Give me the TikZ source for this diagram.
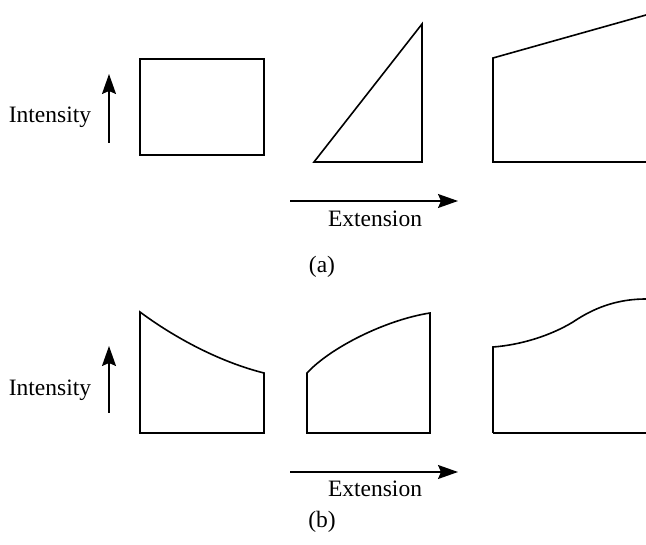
\documentclass[tikz,border=0pt]{standalone}
\usepackage{fontspec}
\setmainfont{Liberation Serif}
\usetikzlibrary{arrows.meta}

\begin{document}
\begin{tikzpicture}[x=1pt,y=-1pt,line width=1.6pt,
    axis/.style={-{Stealth[length=20pt,width=14pt,inset=3pt]},line width=1.5pt},
    lab/.style={font=\fontsize{23.5}{28}\selectfont}]
  \useasboundingbox (0,0) rectangle (646,545);
  % (a) linear profiles
  \draw (140,59) rectangle (264,155);
  \draw (314,162) -- (422,162) -- (422,24) -- cycle;
  \draw (646,15) -- (493,58) -- (493,162) -- (646,162);
  \coordinate (ia0) at (109,143);
  \coordinate (ia1) at (109,74);
  \draw[axis] (ia0) -- (ia1);
  \node[lab] (inta) at (50,117) {Intensity};
  \coordinate (ea0) at (290,201);
  \coordinate (ea1) at (458,201);
  \draw[axis] (ea0) -- (ea1);
  \node[lab] (exta) at (375,219) {Extension};
  \node[lab] (capa) at (322,267) {(a)};
  % (b) curved profiles
  \draw (264,373) .. controls (220,362) and (175,338) .. (140,312)
    -- (140,433) -- (264,433) -- cycle;
  \draw (307,433) -- (307,373) .. controls (330,348) and (385,320) .. (430,313)
    -- (430,433) -- cycle;
  \draw (493,433) -- (493,347) .. controls (520,345) and (550,336) .. (573,322)
    .. controls (598,305) and (622,299) .. (646,299);
  \draw (493,433) -- (646,433);
  \coordinate (ib0) at (109,413);
  \coordinate (ib1) at (109,346);
  \draw[axis] (ib0) -- (ib1);
  \node[lab] (intb) at (50,390) {Intensity};
  \coordinate (eb0) at (290,472);
  \coordinate (eb1) at (458,472);
  \draw[axis] (eb0) -- (eb1);
  \node[lab] (extb) at (375,489) {Extension};
  \node[lab] (capb) at (322,522) {(b)};
\end{tikzpicture}
\end{document}
